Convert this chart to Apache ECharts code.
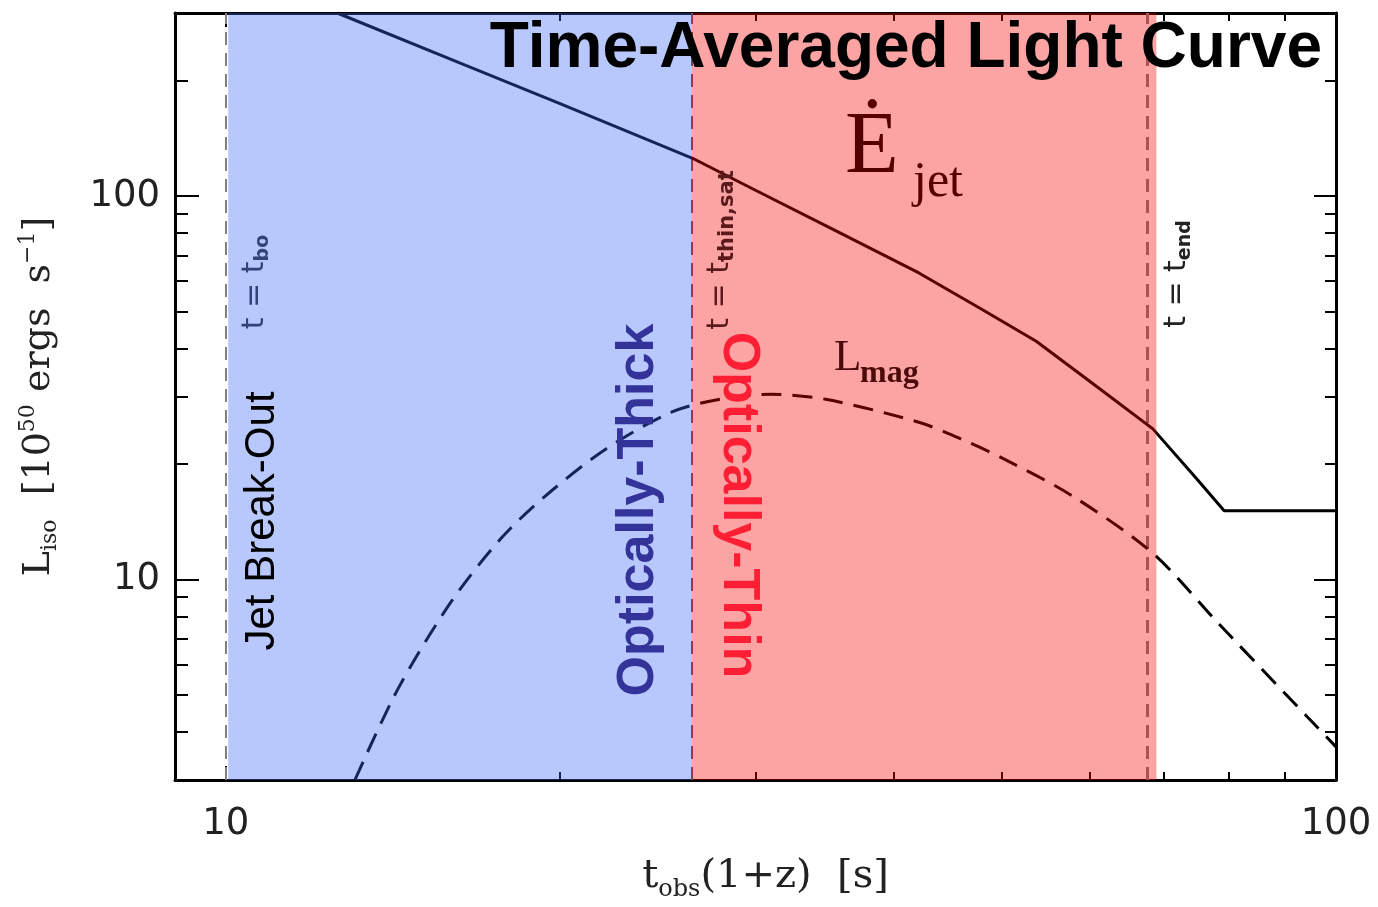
<!DOCTYPE html>
<html>
<head>
<meta charset="utf-8">
<script src="https://cdn.jsdelivr.net/npm/echarts@6/dist/echarts.min.js"></script>
<style>
  html, body { margin: 0; padding: 0; background: #fff; }
  #lightCurve { width: 1378px; height: 907px; }
</style>
</head>
<body>
<div id="lightCurve"></div>
<script>
  // t_obs(1+z) [s] vs L_iso [1e50 erg/s]
  var tJet = [12.6, 16.2, 20, 26.3, 30, 36, 42.1, 48, 53.7, 61, 68.4, 74.9, 79.3, 100];
  var eJet = [300, 223, 174, 125.6, 103.5, 79.3, 63, 50.6, 41.8, 31.7, 24.7, 18.3, 15.1, 15.1];

  var tMag = [13.07, 14.3, 15.96, 17.7, 19.4, 22.0, 25.2, 28, 31.0, 34.7, 42.1, 46, 50.1, 57.9, 68.4, 78.5, 100];
  var lMag = [3.0, 5.2, 8.75, 12.8, 16.5, 21.9, 27.3, 29.6, 30.4, 29.5, 25.7, 23.2, 20.7, 16.5, 11.7, 7.64, 3.66];

  // t_bo, t_thin,sat, t_end
  var tMarks = [10, 26.3, 68.3];
  var regionThick = [10.05, 26.3];
  var regionThin = [26.3, 68.9];

  var xRange = [9, 100];
  var yRange = [3, 300];
  var xMajor = [10, 100];
  var xMinor = [20, 30, 40, 50, 60, 70, 80, 90];
  var yMajor = [10, 100];
  var yMinor = [4, 5, 6, 7, 8, 9, 20, 30, 40, 50, 60, 70, 80, 90, 200, 300];

  var lg = function (v) { return Math.log10(v); };
  var pow10 = function (v) { return String(Math.round(Math.pow(10, v))); };

  var myChart = echarts.init(document.getElementById('lightCurve'));

  function makeAxis(position, range, ticks, len, showLine) {
    return {
      type: 'value',
      position: position,
      min: lg(range[0]),
      max: lg(range[1]),
      splitLine: { show: false },
      axisLine: { show: showLine, onZero: false, lineStyle: { color: '#000', width: 3 } },
      axisTick: {
        show: true,
        inside: true,
        length: len,
        customValues: ticks.map(lg),
        lineStyle: { color: '#000', width: 2 }
      },
      axisLabel: { show: false }
    };
  }

  var xBottom = makeAxis('bottom', xRange, xMajor, 14, true);
  xBottom.axisLabel = {
    show: true,
    customValues: xMajor.map(lg),
    formatter: pow10,
    margin: 26,
    fontFamily: 'DejaVu Sans',
    fontSize: 37,
    color: '#222'
  };
  xBottom.name = '{t|t}{s|obs}{t|(1+z)  [s]}';
  xBottom.nameLocation = 'middle';
  xBottom.nameGap = 72;
  xBottom.nameTextStyle = {
    padding: [0, 0, 0, 20],
    rich: {
      t: { fontFamily: 'DejaVu Serif', fontSize: 40, lineHeight: 50, color: '#222' },
      s: { fontFamily: 'DejaVu Serif', fontSize: 24, lineHeight: 14, verticalAlign: 'bottom', color: '#222' }
    }
  };

  var yLeft = makeAxis('left', yRange, yMajor, 24, true);
  yLeft.axisLabel = {
    show: true,
    customValues: yMajor.map(lg),
    formatter: pow10,
    margin: 15,
    fontFamily: 'DejaVu Sans',
    fontSize: 37,
    color: '#222'
  };
  yLeft.name = '{m|L}{s|iso}{m|  [10}{p|50}{m| ergs  s}{p|\u22121}{m|]}';
  yLeft.nameLocation = 'middle';
  yLeft.nameRotate = 90;
  yLeft.nameGap = 114;
  yLeft.nameTextStyle = {
    rich: {
      m: { fontFamily: 'DejaVu Serif', fontSize: 38, lineHeight: 44, color: '#222' },
      s: { fontFamily: 'DejaVu Serif', fontSize: 22, lineHeight: 12, verticalAlign: 'bottom', color: '#222' },
      p: { fontFamily: 'DejaVu Serif', fontSize: 22, lineHeight: 12, verticalAlign: 'top', color: '#222' }
    }
  };

  var option = {
    backgroundColor: '#fff',
    animation: false,
    title: {
      text: 'Time-Averaged Light Curve',
      right: 56,
      top: 17,
      padding: 0,
      z: 20,
      textStyle: { fontFamily: 'Liberation Sans', fontWeight: 'bold', fontSize: 64, color: '#000' }
    },
    grid: { left: 175, right: 42, top: 13, bottom: 125 },
    xAxis: [
      xBottom,
      makeAxis('bottom', xRange, xMinor, 8, false),
      makeAxis('top', xRange, xMajor, 14, true),
      makeAxis('top', xRange, xMinor, 8, false)
    ],
    yAxis: [
      yLeft,
      makeAxis('left', yRange, yMinor, 13, false),
      makeAxis('right', yRange, yMajor, 22, true),
      makeAxis('right', yRange, yMinor, 11, false)
    ],
    series: [
      {
        name: 'Ejet',
        type: 'line',
        z: 2,
        showSymbol: false,
        silent: true,
        data: tJet.map(function (t, i) { return [lg(t), lg(eJet[i])]; }),
        lineStyle: { color: '#000', width: 3 },
        markLine: {
          silent: true,
          z: 2,
          symbol: ['none', 'none'],
          label: { show: false },
          data: [
            { xAxis: lg(tMarks[0]), lineStyle: { color: '#808080', width: 2, type: [13, 8] } },
            { xAxis: lg(tMarks[1]), lineStyle: { color: '#555', width: 2, type: [13, 8] } },
            { xAxis: lg(tMarks[2]), lineStyle: { color: '#808080', width: 3, type: [13, 8] } }
          ]
        }
      },
      {
        name: 'Lmag',
        type: 'line',
        z: 2,
        showSymbol: false,
        silent: true,
        smooth: 0.3,
        data: tMag.map(function (t, i) { return [lg(t), lg(lMag[i])]; }),
        lineStyle: { color: '#000', width: 3, type: [20, 11] }
      },
      {
        name: 'regions',
        type: 'line',
        z: 8,
        silent: true,
        data: [],
        markArea: {
          silent: true,
          z: 8,
          data: [
            [{ xAxis: lg(regionThick[0]), itemStyle: { color: 'rgba(58, 103, 247, 0.36)' } }, { xAxis: lg(regionThick[1]) }],
            [{ xAxis: lg(regionThin[0]), itemStyle: { color: 'rgba(247, 3, 3, 0.36)' } }, { xAxis: lg(regionThin[1]) }]
          ]
        }
      }
    ],
    graphic: [
      {
        type: 'text', z: 50, x: 262, y: 521, rotation: Math.PI / 2,
        style: { text: 'Jet Break-Out', font: '42px "Liberation Sans"', fill: '#000',
          align: 'center', verticalAlign: 'middle', textAlign: 'center', textVerticalAlign: 'middle' }
      },
      {
        type: 'text', z: 50, x: 639, y: 510, rotation: Math.PI / 2,
        style: { text: 'Optically-Thick', font: 'bold 52px "Liberation Sans"', fill: '#33339a',
          align: 'center', verticalAlign: 'middle', textAlign: 'center', textVerticalAlign: 'middle' }
      },
      {
        type: 'text', z: 50, x: 738, y: 505, rotation: -Math.PI / 2,
        style: { text: 'Optically-Thin', font: 'bold 52px "Liberation Sans"', fill: '#ff1f35',
          align: 'center', verticalAlign: 'middle', textAlign: 'center', textVerticalAlign: 'middle' }
      },
      {
        type: 'text', z: 50, x: 255, y: 282, rotation: Math.PI / 2,
        style: {
          text: '{m|t = t}{s|bo}', fill: '#33427a',
          align: 'center', verticalAlign: 'middle', textAlign: 'center', textVerticalAlign: 'middle',
          rich: {
            m: { fontFamily: 'DejaVu Sans', fontSize: 30, lineHeight: 36, fill: '#33427a' },
            s: { fontFamily: 'DejaVu Sans', fontSize: 19, fontWeight: 'bold', lineHeight: 10, verticalAlign: 'bottom', fill: '#33427a' }
          }
        }
      },
      {
        type: 'text', z: 50, x: 720, y: 250, rotation: Math.PI / 2,
        style: {
          text: '{m|t = t}{s|thin,sat}', fill: '#5a1a1a',
          align: 'center', verticalAlign: 'middle', textAlign: 'center', textVerticalAlign: 'middle',
          rich: {
            m: { fontFamily: 'DejaVu Sans', fontSize: 30, lineHeight: 36, fill: '#5a1a1a' },
            s: { fontFamily: 'DejaVu Sans', fontSize: 21, fontWeight: 'bold', lineHeight: 10, verticalAlign: 'bottom', fill: '#5a1a1a' }
          }
        }
      },
      {
        type: 'text', z: 50, x: 1177, y: 274, rotation: Math.PI / 2,
        style: {
          text: '{m|t = t}{s|end}', fill: '#222',
          align: 'center', verticalAlign: 'middle', textAlign: 'center', textVerticalAlign: 'middle',
          rich: {
            m: { fontFamily: 'DejaVu Sans', fontSize: 30, lineHeight: 36, fill: '#222' },
            s: { fontFamily: 'DejaVu Sans', fontSize: 19, fontWeight: 'bold', lineHeight: 10, verticalAlign: 'bottom', fill: '#222' }
          }
        }
      },
      {
        type: 'text', z: 50, x: 845, y: 149,
        style: { text: '\u0116', font: '88px "Liberation Serif"', fill: '#550000',
          align: 'left', verticalAlign: 'middle', textAlign: 'left', textVerticalAlign: 'middle' }
      },
      {
        type: 'text', z: 50, x: 913, y: 183,
        style: { text: 'jet', font: '50px "Liberation Serif"', fill: '#550000',
          align: 'left', verticalAlign: 'middle', textAlign: 'left', textVerticalAlign: 'middle' }
      },
      {
        type: 'text', z: 50, x: 834, y: 358,
        style: { text: 'L', font: '45px "Liberation Serif"', fill: '#4d0a0a',
          align: 'left', verticalAlign: 'middle', textAlign: 'left', textVerticalAlign: 'middle' }
      },
      {
        type: 'text', z: 50, x: 860, y: 374,
        style: { text: 'mag', font: 'bold 32px "Liberation Serif"', fill: '#4d0a0a',
          align: 'left', verticalAlign: 'middle', textAlign: 'left', textVerticalAlign: 'middle' }
      }
    ]
  };

  myChart.setOption(option);
</script>
</body>
</html>
